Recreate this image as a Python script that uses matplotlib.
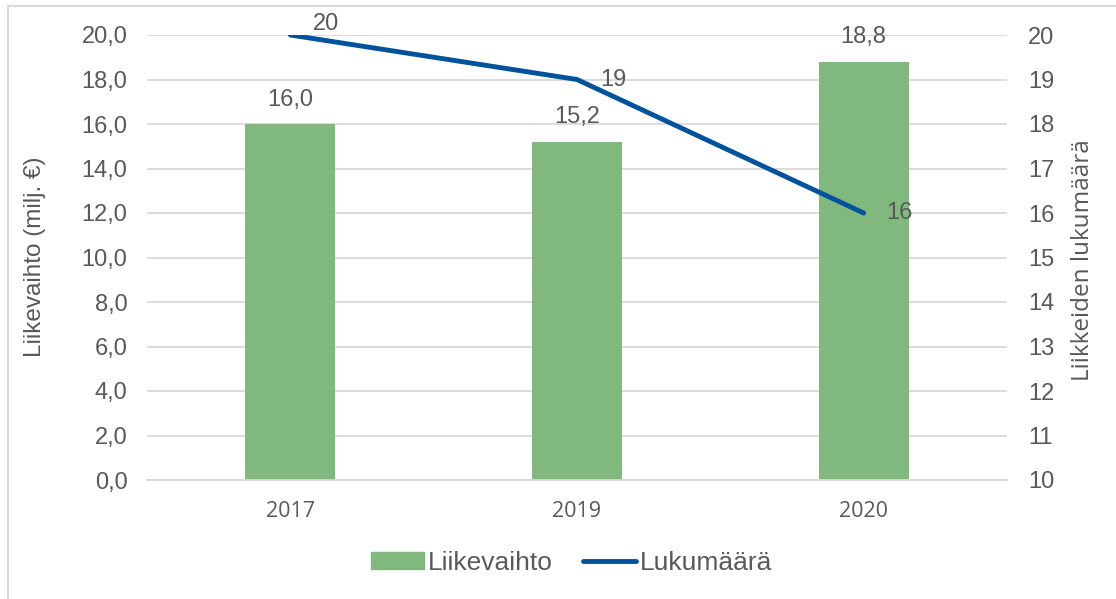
import matplotlib.pyplot as plt
from matplotlib.patches import Rectangle
from matplotlib.lines import Line2D

years = ["2017", "2019", "2020"]
liikevaihto = [16.0, 15.2, 18.8]
lukumaara = [20, 19, 16]

bar_col = "#80B87E"
line_col = "#00529B"
txt_col = "#595959"
grid_col = "#D9D9D9"
W, H = 1116, 599

plt.rcParams['font.family'] = ['Liberation Sans', 'DejaVu Sans']

fig = plt.figure(figsize=(W / 100, H / 100), dpi=100)
ax = fig.add_axes([147/W, 1-480/H, 860/W, 445/H])
ax2 = ax.twinx()

# outer frame
fig.patches.append(Rectangle((8/W, -0.01), 1.2, 1-6/H+0.01, transform=fig.transFigure,
                             fill=False, edgecolor=grid_col, linewidth=1.5))

x = range(len(years))
ax.bar(x, liikevaihto, width=0.315, color=bar_col, zorder=2)
ax.set_ylim(0, 20)
ax.set_xlim(-0.5, 2.5)
ax.set_yticks([i * 2 for i in range(11)])
ax.set_yticklabels([f"{i*2:.1f}".replace(".", ",") for i in range(11)], fontsize=17, color=txt_col)
ax.set_xticks(list(x))
ax.set_xticklabels(years, fontsize=15.5, color=txt_col, family=['Open Sans', 'DejaVu Sans'])
ax.tick_params(length=0)
ax.tick_params(axis='x', pad=15)
ax.tick_params(axis='y', pad=14)
ax.grid(axis='y', color=grid_col, linewidth=1.3, zorder=0)
ax.set_axisbelow(True)
for s in ax.spines.values():
    s.set_visible(False)
ax.spines['bottom'].set_visible(True)
ax.spines['bottom'].set_color(grid_col)
ax.spines['bottom'].set_linewidth(1.3)

for i, v in enumerate(liikevaihto):
    ax.text(i, v + 1.1, f"{v:.1f}".replace(".", ","), ha='center', va='center', fontsize=17, color=txt_col)

ax2.plot(list(x), lukumaara, color=line_col, linewidth=3.5, solid_capstyle='round', zorder=3)
ax2.set_ylim(10, 20)
ax2.set_yticks(range(10, 21))
ax2.set_yticklabels([str(i) for i in range(10, 21)], fontsize=17, color=txt_col)
ax2.tick_params(length=0, pad=15)
for s in ax2.spines.values():
    s.set_visible(False)

# axis titles
fig.text(35/W, 1-257/H, "Liikevaihto (milj. €)", rotation=90, ha='center', va='center',
         fontsize=17.5, color=txt_col)
fig.text(1083/W, 1-260/H, "Liikkeiden lukumäärä", rotation=90, ha='center', va='center',
         fontsize=17.5, color=txt_col, family=['Open Sans', 'DejaVu Sans'])

# point labels
ax2.text(0.08, 20.25, "20", ha='left', va='center', fontsize=17, color=txt_col)
ax2.plot([0.0, 0.014, 0.05], [20.0, 20.18, 20.18], color="#A6A6A6", linewidth=1)
ax2.text(1.08, 19.0, "19", ha='left', va='center', fontsize=17, color=txt_col)
ax2.text(2.08, 16.0, "16", ha='left', va='center', fontsize=17, color=txt_col)

handles = [Rectangle((0, 0), 1, 1, color=bar_col),
           Line2D([0], [0], color=line_col, linewidth=3.5, solid_capstyle='round')]
fig.legend(handles, ["Liikevaihto", "Lukumäärä"], loc='center', bbox_to_anchor=(572/W, 1-563/H),
           ncol=2, frameon=False, fontsize=19, labelcolor=txt_col, handlelength=2.0,
           handleheight=0.6, handletextpad=0.15, columnspacing=1.15)

fig.savefig("out.png", dpi=100)
